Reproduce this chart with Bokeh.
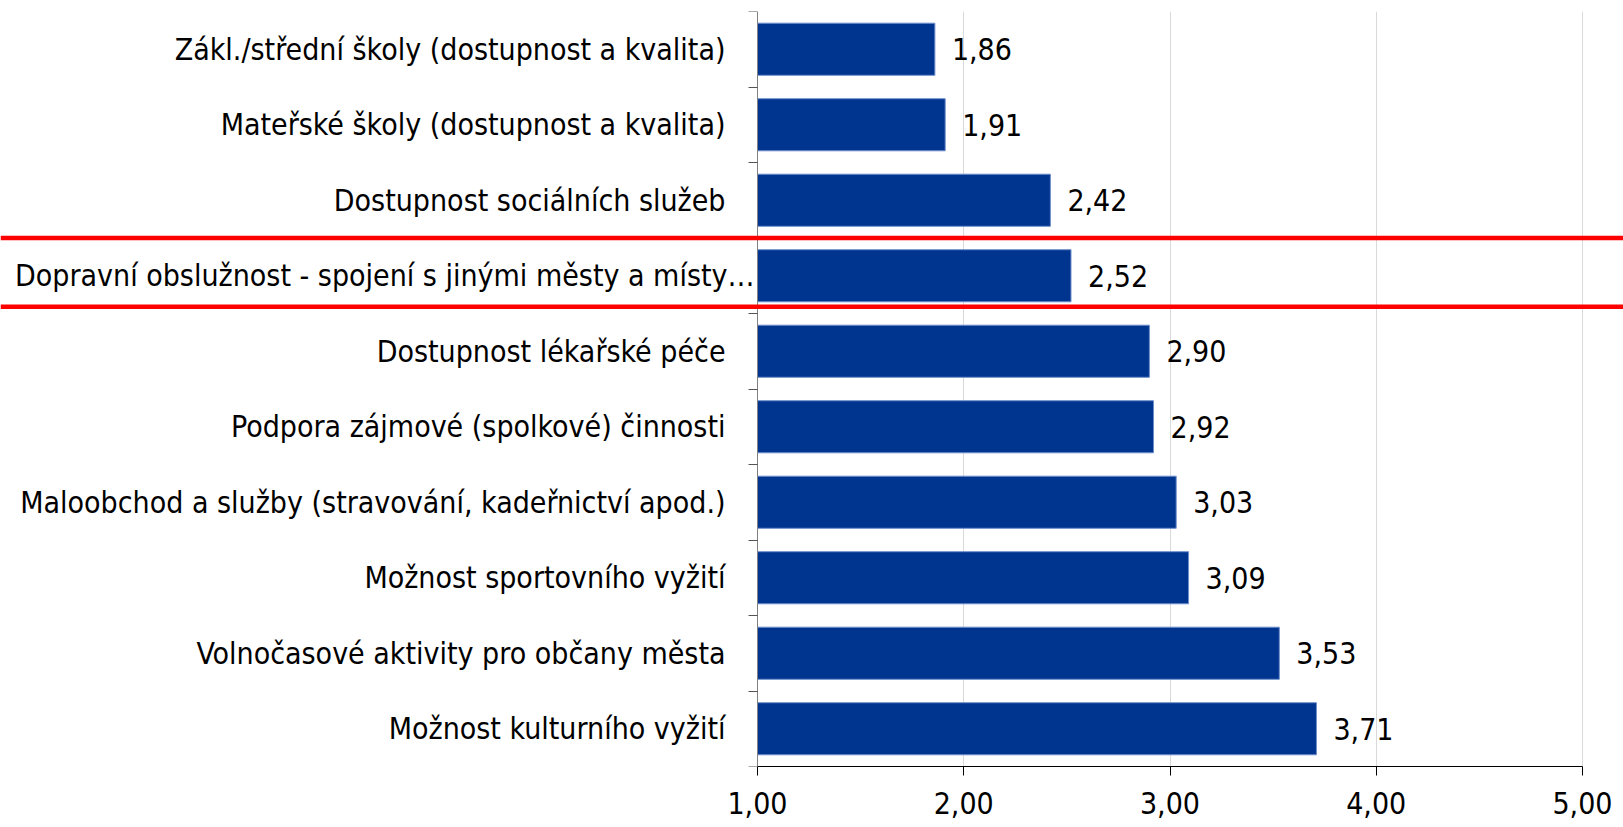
from bokeh.plotting import figure
from bokeh.models import (Range1d, FixedTicker, Span, ColumnDataSource, LabelSet, Label)
from bokeh.core.properties import value
from bokeh.embed import file_html
from bokeh.resources import INLINE

# Data (top to bottom as in the chart)
categories = [
    "Zákl./střední školy (dostupnost a kvalita)",
    "Mateřské školy (dostupnost a kvalita)",
    "Dostupnost sociálních služeb",
    "Dopravní obslužnost - spojení s jinými městy a místy…",
    "Dostupnost lékařské péče",
    "Podpora zájmové (spolkové) činnosti",
    "Maloobchod a služby (stravování, kadeřnictví apod.)",
    "Možnost sportovního vyžití",
    "Volnočasové aktivity pro občany města",
    "Možnost kulturního vyžití",
]
values = [1.86, 1.91, 2.42, 2.52, 2.90, 2.92, 3.03, 3.09, 3.53, 3.71]
x_ticks = [1, 2, 3, 4, 5]
x_tick_labels = ["1,00", "2,00", "3,00", "4,00", "5,00"]
highlight_index = 3

FONT = "DejaVu Sans Condensed"
FS = "30px"

n = len(categories)
ypos = [n - 1 - i for i in range(n)]
src = ColumnDataSource(dict(
    y=ypos, v=values, lab=[f"{v:.2f}".replace(".", ",") for v in values],
))

# layout: value axis 1..5 occupies the right part; label area to the left of x=1
W, H = 1623, 827
AXIS_PX, END_PX = 757, 1582
px_per_unit = (END_PX - AXIS_PX) / (x_ticks[-1] - x_ticks[0])
x_start = x_ticks[0] - AXIS_PX / px_per_unit
x_end = x_ticks[-1] + (W - END_PX) / px_per_unit

p = figure(width=W, height=H, output_backend="svg", toolbar_location=None,
           x_range=Range1d(x_start, x_end), y_range=Range1d(-0.5, n - 0.5),
           min_border_left=0, min_border_right=0, min_border_top=11, min_border_bottom=61)
p.outline_line_color = None
p.background_fill_color = "white"

p.xgrid.ticker = FixedTicker(ticks=x_ticks[1:])
p.xgrid.grid_line_color = "#d9d9d9"
p.ygrid.grid_line_color = None

p.hbar(y="y", left=x_ticks[0], right="v", height=0.69, source=src,
       fill_color="#00358F", line_color="#6f8fcc", line_width=1)

labels = LabelSet(x="v", y="y", text="lab", source=src, x_offset=17,
                  text_align="left", text_baseline="middle",
                  text_font=value(FONT), text_font_size=value(FS), text_color="black")
p.add_layout(labels)

# highlight lines around one category, across the full width
hy = ypos[highlight_index]
for loc in (hy + 0.5, hy - 0.41):
    p.add_layout(Span(location=loc, dimension="width", line_color="#FF0000", line_width=4.5))

# x axis
p.xaxis.ticker = FixedTicker(ticks=x_ticks)
p.xaxis.bounds = (x_ticks[0], x_ticks[-1])
p.xaxis.major_label_overrides = {t: l for t, l in zip(x_ticks, x_tick_labels)}
p.xaxis.major_label_text_font = FONT
p.xaxis.major_label_text_font_size = FS
p.xaxis.major_label_text_color = "black"
p.xaxis.major_tick_out = 9
p.xaxis.major_tick_in = 0
p.xaxis.minor_tick_line_color = None
p.xaxis.axis_line_color = "black"
p.xaxis.major_tick_line_color = "black"
p.xaxis.major_label_standoff = 16

# y axis placed at x=1: labels at centres, ticks at band boundaries
yax = p.yaxis[0]
yax.fixed_location = x_ticks[0]
yax.ticker = FixedTicker(ticks=ypos, minor_ticks=[k - 0.5 for k in range(n + 1)])
overrides = {y: c for y, c in zip(ypos, categories)}
overrides[hy] = ""  # the long truncated label is placed separately, as in the original
yax.major_label_overrides = overrides
yax.major_label_text_font = FONT
yax.major_label_text_font_size = FS
yax.major_label_text_color = "black"
yax.major_tick_line_color = None
yax.major_tick_out = 0
yax.major_tick_in = 0
yax.minor_tick_out = 9
yax.minor_tick_in = 0
yax.minor_tick_line_color = "#555555"
yax.axis_line_color = "#808080"
yax.major_label_standoff = 23

p.add_layout(Label(x=x_ticks[0], y=hy, text=categories[highlight_index], x_offset=-3,
                   text_align="right", text_baseline="middle",
                   text_font=FONT, text_font_size=FS, text_color="black"))

open("out.html", "w").write(file_html(p, INLINE))
